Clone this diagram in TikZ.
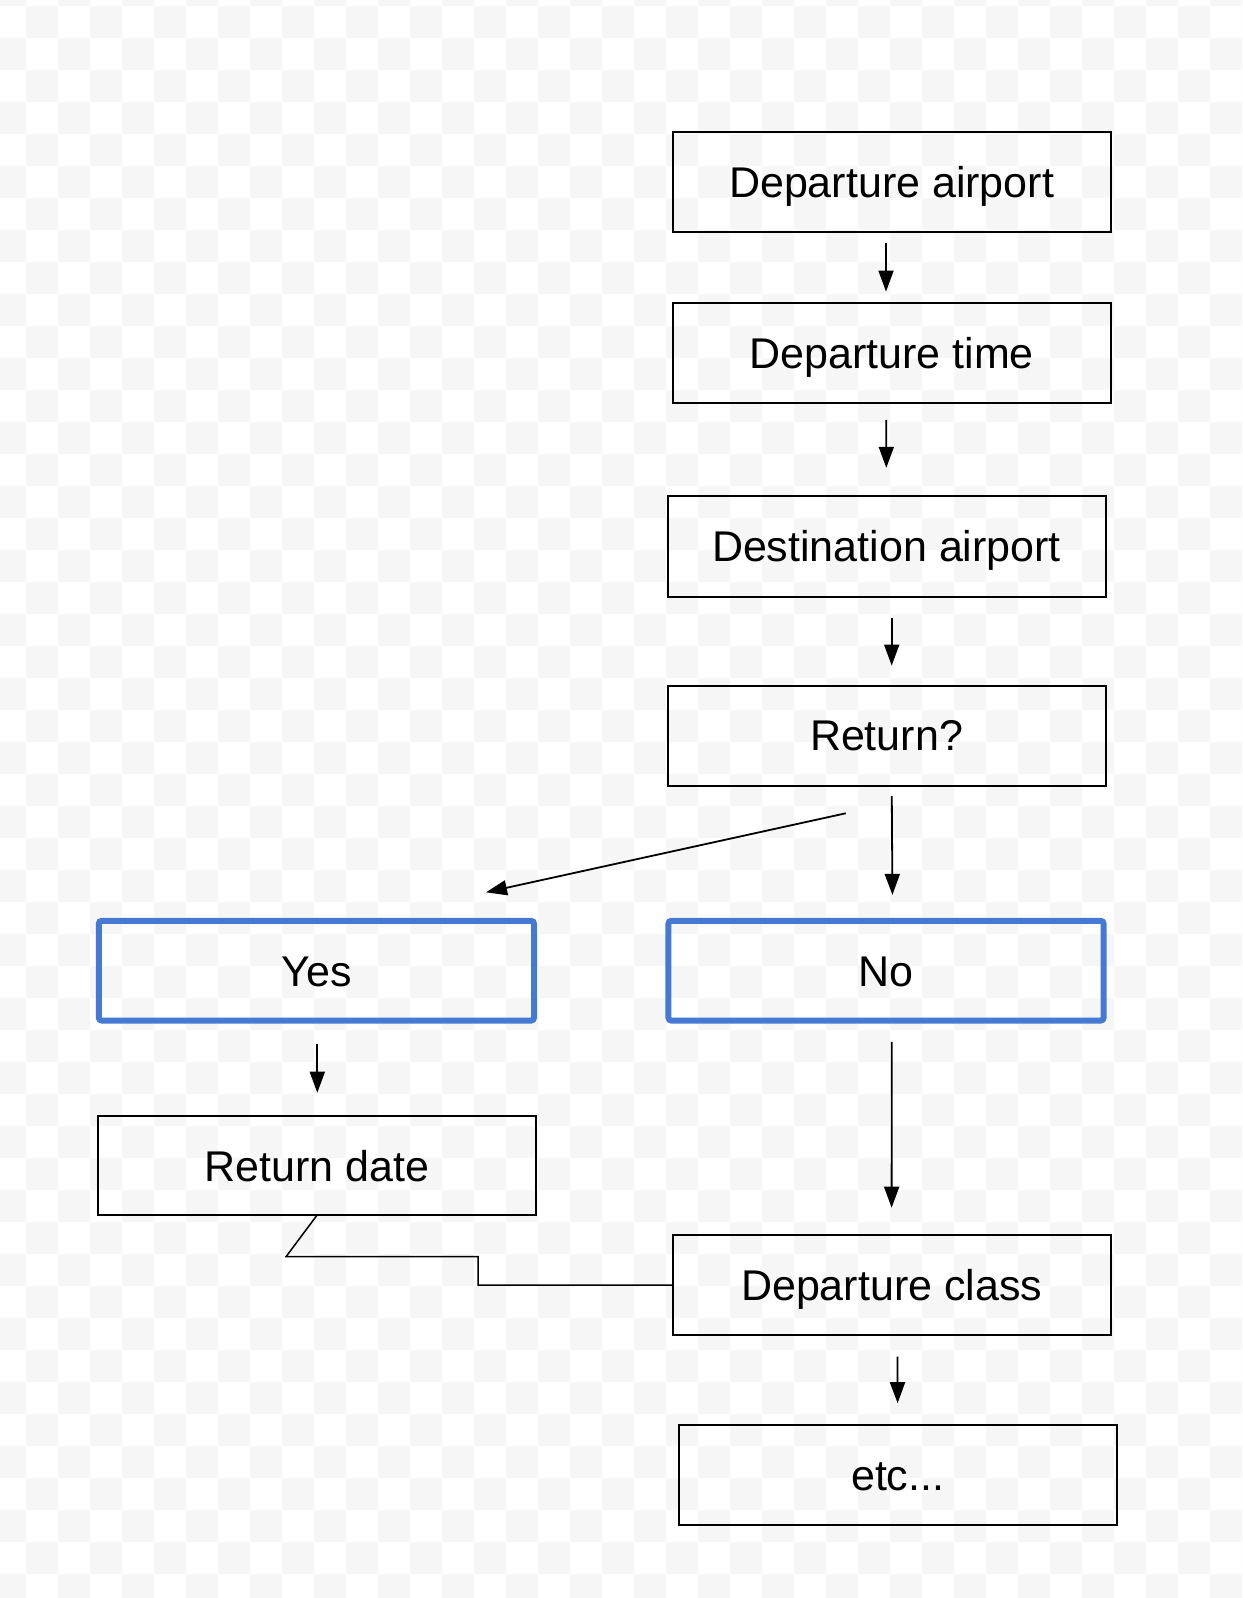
\documentclass[tikz,border=0pt]{standalone}
\usepackage{fontspec}
\setmainfont{Liberation Sans}
\usetikzlibrary{arrows.meta}
\definecolor{checker}{RGB}{246,246,246}
\definecolor{choice-blue}{RGB}{70,122,210}
\tikzset{
    step-box/.style = {draw=black, line width=1pt, rectangle, minimum width=219pt, minimum height=50pt, inner sep=0pt, outer sep=0pt, text height=15.4pt, text depth=0pt, font=\fontsize{21.5}{26}\selectfont},
    choice-box/.style = {step-box, draw=choice-blue, line width=3pt, rounded corners=1.5pt, minimum width=217.6pt, minimum height=49.9pt},
    flow-arrow/.style = {-{Triangle[length=10.5pt,width=7.5pt]}, line width=0.9pt},
    link-line/.style = {line width=0.75pt},
}

\begin{document}
\begin{tikzpicture}[x=0.5pt, y=-0.5pt]
\useasboundingbox (0,0) rectangle (1242,1598);
\begin{scope}
\clip (0,0) rectangle (1242,1598);
\foreach \j in {0,...,50} \foreach \i in {0,...,39} {
    \ifodd\numexpr\i+\j\relax\else
        \fill[checker] ({-6+32*\i},{-26+32*\j}) rectangle ++(32,32);
    \fi
}
\end{scope}

\node[step-box] (depa) at (891.6,182) {Departure airport};
\node[step-box] (dept) at (891.6,353.5) {Departure time};
\node[step-box] (dest) at (886.5,546.5) {Destination airport};
\node[step-box] (ret) at (886.5,735.5) {Return?};
\node[choice-box] (yes) at (316.4,970.7) {Yes};
\node[choice-box] (no) at (886,970.7) {No};
\node[step-box, minimum height=49.5pt] (retd) at (317,1165.7) {Return date};
\node[step-box] (depc) at (891.6,1285) {Departure class};
\node[step-box] (etc) at (897.7,1475) {etc...};

\draw[flow-arrow, shorten <=5.5pt, shorten >=5.95pt] ([xshift=-2.8pt]depa.south) -- ([xshift=-2.8pt]dept.north);
\draw[flow-arrow, shorten <=8.25pt, shorten >=14.35pt] ([xshift=-2.65pt]dept.south) -- ([xshift=-0.1pt]dest.north);
\draw[flow-arrow, shorten <=10.55pt, shorten >=9.95pt] ([xshift=2.6pt]dest.south) -- ([xshift=2.6pt]ret.north);
\draw[flow-arrow, shorten <=5.25pt, shorten >=12.95pt] ([xshift=2.6pt]ret.south) -- ([xshift=3.3pt]no.north);
\draw[flow-arrow] ([xshift=-20.4pt, yshift=-13.9pt]ret.south) -- ([xshift=84.8pt, yshift=14.25pt]yes.north);
\draw[flow-arrow, shorten <=11.75pt, shorten >=11.75pt] ([xshift=0.45pt]yes.south) -- ([xshift=0.15pt]retd.north);
\draw[flow-arrow, shorten <=10.6pt, shorten >=13.65pt] ([xshift=2.85pt]no.south) -- (depc.north);
\draw[flow-arrow, shorten <=10.85pt, shorten >=10.9pt] ([xshift=2.85pt]depc.south) -- (etc.north);
\draw[link-line] (retd.south) -- ++(-31,41.5) -- ++(192,0) |- (depc.west);
\end{tikzpicture}
\end{document}
